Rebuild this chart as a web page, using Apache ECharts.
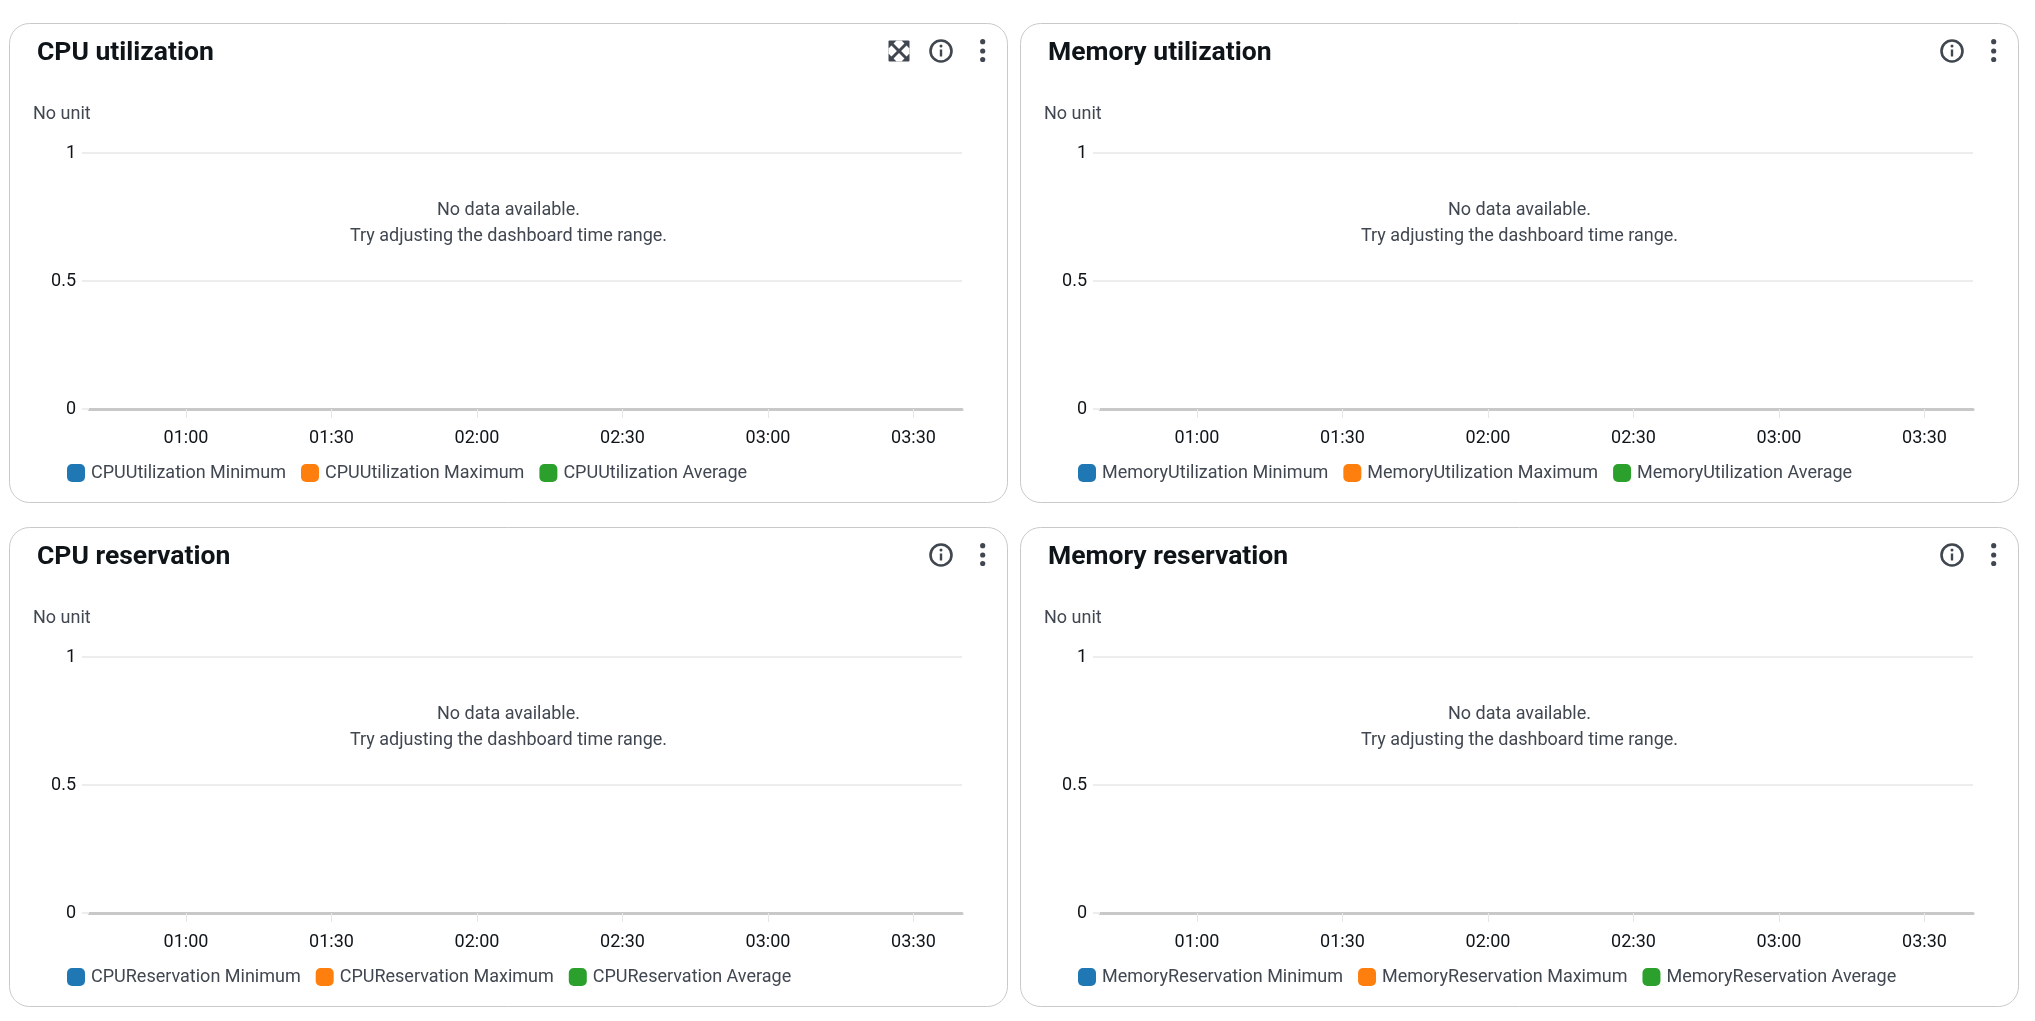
<!DOCTYPE html>
<html><head><meta charset="utf-8">
<style>html,body{margin:0;padding:0;background:#fff}#c{width:2035px;height:1021px}</style>
<script src="https://cdn.jsdelivr.net/npm/echarts@6/dist/echarts.min.js"></script>
</head><body><div id="c"></div>
<script>
const panelTitles = ['CPU utilization','Memory utilization','CPU reservation','Memory reservation'];
const metricNames = ['CPUUtilization','MemoryUtilization','CPUReservation','MemoryReservation'];
const statNames = ['Minimum','Maximum','Average'];
const statColors = ['#1f77b4','#ff7f0e','#2ca02c'];
const yTicks = [0,0.5,1];
const timeStart = '00:40', timeEnd = '03:40';
const timeTicks = ['01:00','01:30','02:00','02:30','03:00','03:30'];
const noDataLines = 'No data available.\nTry adjusting the dashboard time range.';
const unitLabel = 'No unit';

const FONT='Roboto', TXT='#414750', ICON='#414750';
const toMin = s => { const [h,m]=s.split(':').map(Number); return h*60+m; };
const fmt = v => String(Math.floor(v/60)).padStart(2,'0')+':'+String(v%60).padStart(2,'0');
const chart = echarts.init(document.getElementById('c'),null,{renderer:'canvas'});
const DX=1011, DY=504;
const opt={animation:false,title:[],grid:[],xAxis:[],yAxis:[],legend:[],series:[],graphic:[]};
const gfx=opt.graphic;
panelTitles.forEach((t,i)=>{
  const ox=(i%2)*DX, oy=(i>>1)*DY;
  gfx.push({type:'rect',silent:true,z:-1,shape:{x:9.5+ox,y:23.5+oy,width:998,height:479,r:20},style:{fill:'#fff',stroke:'#c9c9c9',lineWidth:1}});
  opt.title.push({text:t,left:37+ox,top:40+oy,padding:0,textStyle:{fontFamily:FONT,fontSize:26.5,fontWeight:700,color:'#0f1419'}});
  gfx.push({type:'text',silent:true,style:{x:33+ox,y:114.5+oy,text:unitLabel,font:'18px '+FONT,fill:TXT,verticalAlign:'middle'}});
  const cx=508.5+ox, cy=223.5+oy;
  gfx.push({type:'text',silent:true,style:{x:cx,y:cy,text:noDataLines,font:'18px '+FONT,fill:TXT,align:'center',verticalAlign:'middle',lineHeight:26}});
  // info + menu icons
  const ix=941+ox, iy=51+oy;
  gfx.push({type:'circle',silent:true,shape:{cx:ix,cy:iy,r:10.5},style:{fill:'none',stroke:ICON,lineWidth:2.6}});
  gfx.push({type:'rect',silent:true,shape:{x:ix-1.2,y:iy-1.5,width:2.4,height:7},style:{fill:ICON}});
  gfx.push({type:'circle',silent:true,shape:{cx:ix,cy:iy-5,r:1.5},style:{fill:ICON}});
  [-9.3,0,8.5].forEach(d=>gfx.push({type:'circle',silent:true,shape:{cx:982.7+ox,cy:iy+d,r:2.6},style:{fill:ICON}}));
  if(i===0){
    const a=888.5,b=40.5,s=21;
    gfx.push({type:'rect',silent:true,shape:{x:a,y:b,width:s,height:s,r:1},style:{fill:ICON}});
    const notch=[[8,0],[13,0],[15.95,2.95],[10.5,8.4],[5.05,2.95]];
    const rots=[(x,y)=>[x,y],(x,y)=>[s-y,x],(x,y)=>[x,s-y],(x,y)=>[y,x]];
    rots.forEach(r=>gfx.push({type:'polygon',silent:true,shape:{points:notch.map(([x,y])=>{const [u,v]=r(x,y);return [a+u,b+v];})},style:{fill:'#fff'}}));
  }
  opt.grid.push({left:89+ox,top:153+oy,width:873,height:256,containLabel:false});
  opt.xAxis.push({gridIndex:i,type:'value',min:toMin(timeStart),max:toMin(timeEnd),
    axisLine:{show:true,onZero:false,lineStyle:{color:'#c8c8c8',width:3}},
    axisTick:{show:true,length:9,customValues:timeTicks.map(toMin),lineStyle:{color:'#e6e6e6',width:1}},
    splitLine:{show:false},
    axisLabel:{customValues:timeTicks.map(toMin),formatter:fmt,margin:20,color:'#0f1419',fontFamily:FONT,fontSize:18,hideOverlap:false}
  });
  opt.yAxis.push({gridIndex:i,type:'value',min:0,max:1,interval:0.5,
    axisLine:{show:false},
    axisTick:{show:true,length:7,lineStyle:{color:'#ededed',width:2}},
    splitLine:{show:true,lineStyle:{color:'#ededed',width:2}},
    axisLabel:{margin:13,color:'#0f1419',fontFamily:FONT,fontSize:18,verticalAlignMinLabel:'middle',verticalAlignMaxLabel:'middle',formatter:v=>yTicks.includes(v)?String(v):''}
  });
  const names=statNames.map(s=>metricNames[i]+' '+s);
  opt.legend.push({data:names,left:67+ox,top:464+oy,padding:0,
    icon:'path://M5 0H13A5 5 0 0 1 18 5V13A5 5 0 0 1 13 18H5A5 5 0 0 1 0 13V5A5 5 0 0 1 5 0Z',
    itemWidth:18,itemHeight:18,itemGap:15,selectedMode:false,
    textStyle:{fontFamily:FONT,fontSize:18,color:TXT,padding:[3,0,0,1]}});
  names.forEach((n,k)=>opt.series.push({name:n,type:'line',xAxisIndex:i,yAxisIndex:i,data:[],color:statColors[k],showSymbol:false}));
});
chart.setOption(opt);
</script></body></html>
